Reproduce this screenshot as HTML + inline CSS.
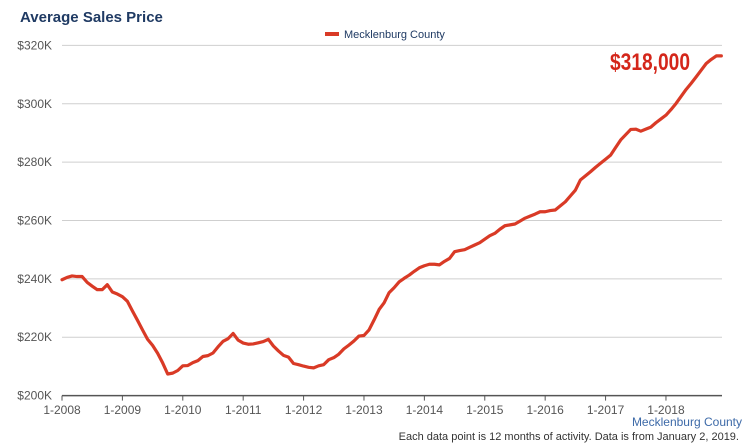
<!DOCTYPE html>
<html><head><meta charset="utf-8"><style>
html,body{margin:0;padding:0;background:#fff;}
svg{display:block;font-family:"Liberation Sans",sans-serif;}
</style></head><body>
<svg id="chart" width="750" height="445" viewBox="0 0 750 445">
<text x="20" y="22" font-size="15" font-weight="bold" fill="#1f3a63">Average Sales Price</text>
<g>
<line x1="325" y1="34" x2="339" y2="34" stroke="#d93a26" stroke-width="4"/>
<text x="344" y="38" font-size="11" fill="#1f3a63">Mecklenburg County</text>
</g>
<g id="grid"></g>
<g id="xaxis"></g>
<g id="yaxis"></g>
<path id="series" fill="none" stroke="#d93a26" stroke-width="3.2" stroke-linejoin="round" stroke-linecap="round"/>
<text x="650" y="70" font-size="24" font-weight="bold" fill="#d4261a" text-anchor="middle" transform="translate(650,0) scale(0.8,1) translate(-650,0)">$318,000</text>
<text x="742" y="426" font-size="12" fill="#3d6aa8" text-anchor="end">Mecklenburg County</text>
<text x="739" y="440" font-size="11" fill="#333" text-anchor="end">Each data point is 12 months of activity. Data is from January 2, 2019.</text>
</svg>
<script>
const yTicks = [200,220,240,260,280,300,320];
const yTickLabels = ["$200K","$220K","$240K","$260K","$280K","$300K","$320K"];
const xTickLabels = ["1-2008","1-2009","1-2010","1-2011","1-2012","1-2013","1-2014","1-2015","1-2016","1-2017","1-2018"];
const values2008 = [239.7,240.5,241,240.8,240.8,238.8,237.5,236.3,236.3,238,235.5,234.8];
const values2009 = [233.9,232.3,229,225.8,222.5,219.3,217.2,214.5,211.2,207.4,207.7,208.6];
const values2010 = [210.2,210.3,211.3,212,213.4,213.7,214.6,216.7,218.6,219.5,221.3,219];
const values2011 = [218,217.6,217.7,218.1,218.5,219.3,217,215.3,213.8,213.2,211,210.6];
const values2012 = [210.1,209.7,209.5,210.2,210.6,212.3,213,214.2,216,217.3,218.7,220.4];
const values2013 = [220.6,222.5,225.9,229.5,231.8,235.3,237,239,240.2,241.3,242.6,243.8];
const values2014 = [244.5,245,245,244.8,246,247,249.3,249.7,250,250.8,251.6,252.4];
const values2015 = [253.6,254.8,255.6,257,258.2,258.5,258.8,259.8,260.8,261.5,262.2,263];
const values2016 = [263,263.4,263.6,265,266.4,268.4,270.4,273.9,275.3,276.7,278.2,279.6];
const values2017 = [281,282.4,285,287.6,289.4,291.2,291.3,290.6,291.3,292,293.5,294.8];
const values2018 = [296.1,298,300.1,302.5,304.9,307,309.2,311.5,313.8,315.2,316.4,316.4];

const series = [].concat(values2008,values2009,values2010,values2011,values2012,values2013,values2014,values2015,values2016,values2017,values2018);
const NS="http://www.w3.org/2000/svg";
const X0=62, MONTH=5.033, Y0=395.6, YTOP=45.4, VMIN=200, VMAX=320;
function xScale(m){return X0+m*MONTH;}
function yScale(v){return Y0-(v-VMIN)/(VMAX-VMIN)*(Y0-YTOP);}
const grid=document.getElementById('grid'), xa=document.getElementById('xaxis'), ya=document.getElementById('yaxis');
yTicks.forEach((t,i)=>{
  const y=yScale(t);
  if(i>0){
    const l=document.createElementNS(NS,'line');
    l.setAttribute('x1',X0);l.setAttribute('x2',722);l.setAttribute('y1',y);l.setAttribute('y2',y);
    l.setAttribute('stroke','#cfcfcf');l.setAttribute('stroke-width','1');
    
    
    grid.appendChild(l);
  }
  const tx=document.createElementNS(NS,'text');
  tx.setAttribute('x',52);tx.setAttribute('y',y+4);tx.setAttribute('text-anchor','end');
  tx.setAttribute('font-size','12');tx.setAttribute('fill','#555');
  tx.textContent=yTickLabels[i];
  
  
  ya.appendChild(tx);
});
const ax=document.createElementNS(NS,'line');
ax.setAttribute('x1',X0);ax.setAttribute('x2',722);ax.setAttribute('y1',Y0);ax.setAttribute('y2',Y0);
ax.setAttribute('stroke','#555');ax.setAttribute('stroke-width','1.5');


xa.appendChild(ax);
xTickLabels.forEach((lab,i)=>{
  const x=xScale(i*12);
  const tk=document.createElementNS(NS,'line');
  tk.setAttribute('x1',x);tk.setAttribute('x2',x);tk.setAttribute('y1',Y0);tk.setAttribute('y2',Y0+5);
  tk.setAttribute('stroke','#555');
  
  
  xa.appendChild(tk);
  const tx=document.createElementNS(NS,'text');
  tx.setAttribute('x',x);tx.setAttribute('y',414);tx.setAttribute('text-anchor','middle');
  tx.setAttribute('font-size','12');tx.setAttribute('fill','#555');
  tx.textContent=lab;
  
  
  xa.appendChild(tx);
});
document.getElementById('series').setAttribute('d',series.map((v,i)=>(i?'L':'M')+xScale(i).toFixed(2)+' '+yScale(v).toFixed(2)).join(' '));
</script>
</body></html>
